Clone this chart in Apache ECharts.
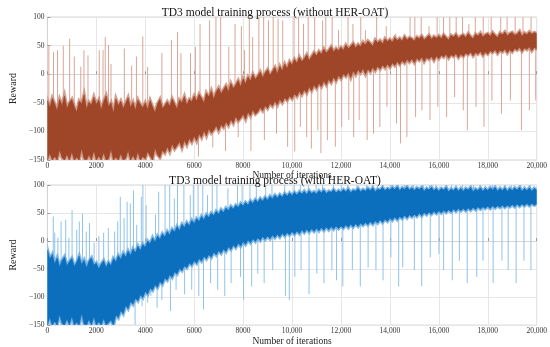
<!DOCTYPE html>
<html>
<head>
<meta charset="utf-8">
<script src="https://cdn.jsdelivr.net/npm/echarts@6/dist/echarts.min.js"></script>
<style>
html,body{margin:0;padding:0;background:#fff;}
#chart{width:550px;height:347px;}
</style>
</head>
<body>
<div id="chart"></div>
<script>
// ---------------- data ----------------
const iterStep = 100; // envelope samples every 100 iterations (0..20000)
const titles = ['TD3 model training process (without HER-OAT)', 'TD3 model training process (with HER-OAT)'];
const xName = 'Number of iterations';
const yName = 'Reward';
const xMin = 0, xMax = 20000, xInterval = 2000;
const yMin = -150, yMax = 100, yInterval = 50;

// without HER-OAT: upper / lower edge of the dense reward band
const topUpper = [
 -46,-58,-42,-52,-64,-44,-55,-38,-60,-50,
 -44,-57,-66,-47,-52,-36,-61,-49,-54,-40,
 -53,-45,-62,-48,-38,-57,-50,-68,-43,-55,
 -47,-60,-51,-41,-58,-49,-63,-45,-53,-59,
 -50,-62,-46,-57,-67,-52,-44,-60,-55,-48,
 -56,-43,-52,-61,-45,-50,-39,-54,-44,-48,
 -38,-47,-35,-42,-50,-33,-40,-29,-44,-31,
 -24,-34,-27,-20,-31,-16,-25,-19,-11,-22,
 -8,-17,-5,-12,0,-9,-3,4,-6,2,
 8,-2,5,12,1,14,6,18,10,22,
 16,26,19,30,22,27,34,24,31,38,
 32,40,35,44,37,42,48,39,45,41,
 47,42,51,45,49,54,46,52,48,56,
 51,58,54,49,60,55,59,53,62,57,
 61,56,64,59,63,58,66,60,64,62,
 58,65,62,67,60,64,68,61,66,63,
 67,62,69,64,60,68,65,70,63,67,
 69,64,71,66,62,70,67,72,65,69,
 71,66,73,68,64,72,69,74,67,71,
 73,68,70,75,66,72,69,74,70,73,71
];
const topLower = [
 -150,-138,-150,-144,-150,-132,-146,-150,-140,-150,
 -136,-150,-145,-150,-130,-148,-150,-141,-150,-134,
 -150,-143,-150,-137,-150,-148,-131,-150,-145,-150,
 -139,-150,-147,-133,-150,-142,-150,-136,-150,-144,
 -148,-135,-143,-150,-129,-141,-146,-133,-138,-127,
 -136,-122,-131,-125,-118,-129,-116,-124,-112,-119,
 -108,-117,-104,-111,-99,-108,-95,-103,-98,-90,
 -99,-88,-93,-83,-90,-79,-86,-74,-82,-77,
 -70,-79,-66,-73,-62,-70,-66,-58,-64,-55,
 -60,-51,-56,-47,-54,-44,-50,-41,-46,-38,
 -43,-34,-39,-30,-36,-27,-33,-22,-29,-19,
 -25,-16,-22,-12,-19,-9,-15,-5,-12,-2,
 -8,1,-4,4,-6,6,-1,8,2,10,
 0,9,4,12,6,14,9,16,11,18,
 12,20,15,22,17,24,19,26,21,27,
 20,28,24,30,22,29,26,31,24,32,
 27,33,30,35,28,34,31,36,29,35,
 31,37,34,39,32,38,35,40,33,39,
 35,41,38,43,36,42,39,44,37,43,
 39,45,42,47,40,46,43,48,41,47,44
];
// without HER-OAT: isolated outliers [iteration, reward]
const topSpikes = [
 [60,50],[250,39],[415,42],[650,50],[910,62],[1100,31],[1365,13],[1495,42],[1660,33],[2120,42],
 [2275,42],[2365,65],[2497,51],[2600,18],[3145,45],[3445,15],[3640,31],[3900,66],[4097,13],[4680,37],
 [5070,60],[5320,74],[5460,37],[5850,37],[6050,48],[6240,88],[6630,94],[6890,100],[7085,100],[7415,48],
 [7670,88],[7930,84],[8060,42],[8255,100],[8390,65],[8645,100],[8840,100],[9035,94],[9230,100],[9430,97],
 [9620,94],[10080,100],[10270,100],[10470,88],[10660,100],[10925,100],[11250,94],[11380,100],[11640,100],[11900,77],
 [12290,100],[12490,88],[12810,100],[13000,77],[13460,100],[13850,84],[14240,71],[14825,100],[15020,100],[15280,100],
 [15600,84],[15930,100],[16190,100],[16450,100],[16710,100],[16970,100],[17230,88],[17490,100],[17815,100],[18140,100],
 [18530,100],[18790,100],[19120,100],[19440,100],[19770,100],
 [6175,-144],[6760,-128],[7280,-134],[7800,-110],[8320,-134],[8870,-115],[9365,-104],[9820,-127],[10110,-135],[10340,-92],
 [10600,-110],[10790,-130],[11055,-98],[11180,-138],[11445,-115],[11770,-127],[12030,-92],[12320,-80],[12520,-110],[12745,-80],
 [13070,-115],[13330,-104],[13590,-92],[13880,-57],[14270,-86],[14435,-121],[14695,-110],[15050,-75],[15310,-63],[15640,-80],
 [15960,-57],[16320,-75],[16645,-40],[17000,-63],[17165,-98],[17520,-57],[17845,-92],[18170,-46],[18560,-69],[18925,-46],
 [19375,-98],[19700,-63],[19960,-46]
];

// with HER-OAT: upper / lower edge of the dense reward band
const botUpper = [
 -16,-32,-24,-41,-30,-46,-35,-28,-44,-37,
 -31,-45,-38,-27,-42,-34,-48,-36,-30,-43,
 -39,-50,-41,-35,-47,-38,-44,-31,-37,-26,
 -33,-22,-29,-18,-26,-14,-21,-9,-17,-6,
 -11,0,-5,6,-2,9,3,13,7,17,
 11,21,16,26,19,30,24,33,27,37,
 31,40,35,44,38,47,42,50,45,53,
 48,56,51,59,54,62,57,64,60,67,
 62,69,64,72,67,74,69,76,71,78,
 73,80,75,82,77,83,78,85,80,86,
 81,87,82,88,84,89,83,90,85,88,
 84,90,86,91,85,89,87,92,86,90,
 87,92,88,93,86,91,89,94,88,92,
 89,94,90,95,88,93,91,96,90,94,
 91,96,92,97,90,95,92,97,91,95,
 90,95,92,96,89,94,91,96,90,94,
 89,94,91,96,88,93,90,95,89,94,
 89,94,91,96,88,93,90,95,89,94,
 90,95,91,96,89,94,90,95,89,94,
 90,95,91,96,89,94,90,95,89,94,91
];
const botLower = [
 -150,-136,-150,-143,-150,-131,-147,-150,-139,-150,
 -134,-150,-145,-150,-129,-148,-150,-140,-150,-135,
 -150,-144,-150,-138,-150,-146,-141,-150,-132,-137,
 -124,-130,-115,-121,-108,-113,-102,-107,-96,-101,
 -90,-95,-84,-88,-78,-83,-72,-77,-66,-70,
 -60,-65,-55,-59,-49,-53,-44,-48,-39,-43,
 -35,-40,-31,-36,-27,-32,-24,-29,-20,-25,
 -17,-22,-14,-19,-10,-15,-7,-12,-4,-9,
 -1,-6,2,-3,4,-1,6,1,8,3,
 9,4,11,6,12,7,14,9,15,11,
 17,12,18,13,20,15,21,16,22,17,
 23,18,24,19,25,20,26,21,27,22,
 27,23,29,24,30,25,31,26,32,28,
 33,29,35,30,36,32,38,33,39,35,
 41,37,43,38,44,40,46,41,47,43,
 48,44,50,45,51,47,52,48,53,49,
 54,50,55,51,56,52,57,53,58,54,
 58,54,59,55,60,56,61,57,61,58,
 62,58,63,59,63,60,64,60,64,61,
 65,61,66,62,66,63,67,63,67,64,66
];
// with HER-OAT: isolated outliers [iteration, reward]
const botSpikes = [
 [45,-14],[240,44],[300,15],[430,6],[560,35],[750,38],[880,6],[1010,55],[1200,20],[1305,35],
 [1435,49],[1590,17],[1720,32],[1910,-3],[2105,9],[2300,15],[2490,23],[2750,17],[2875,35],[2980,79],
 [3135,41],[3260,70],[3390,67],[3520,90],[3650,29],[3840,79],[3905,100],[4035,64],[4420,47],[4550,88],
 [4810,100],[5000,100],[5190,76],[5320,100],[5580,100],[5840,82],[5965,100],[6160,100],[6350,100],[6545,82],
 [6740,100],[6930,100],[7380,94],[7770,100],[7960,100],[8280,100],[8540,100],[8925,100],[9180,100],[9700,100],
 [10085,100],[10340,100],[10665,100],[10985,100],[11245,100],[11690,100],[12015,100],[12270,100],[12655,100],[13040,100],
 [13300,100],[13690,100],[14010,100],[14330,100],[14590,100],[14970,100],[15360,100],[15620,100],[15875,100],[16520,100],
 [16970,100],[17420,100],[17675,100],[18190,100],[18705,100],[18965,100],[19350,100],[19735,100],
 [140,-150],[1230,-150],[1975,-145],[2555,-122],[2905,-133],[3290,-122],[3585,-149],[3870,-116],[4100,-110],[4230,-98],
 [4485,-119],[4680,-105],[5030,-125],[5260,-87],[5610,-95],[5900,-87],[6190,-98],[6380,-122],[6670,-75],[6960,-87],
 [7250,-98],[7510,-75],[7895,-64],[8020,-105],[8350,-81],[8600,-58],[8860,-75],[9210,-52],[9730,-98],[9890,-105],
 [10115,-64],[10370,-52],[10695,-95],[11015,-58],[11305,-75],[11630,-52],[11820,-70],[12075,-81],[12465,-52],[12790,-81],
 [13110,-47],[13430,-52],[13720,-70],[14040,-29],[14360,-81],[14525,-47],[15000,-52],[15300,-81],[15650,-29],[16005,-23],
 [16195,-52],[16550,-70],[16840,-35],[17160,-75],[17550,-64],[17805,-35],[18220,-75],[18580,-35],[18835,-52],[19160,-75],
 [19480,-35],[19765,-52]
];

// ---------------- build ----------------
const FONT = '"Liberation Serif","Times New Roman",serif';
const GRID_LINE = '#e6e6e6';
const BOX = '#d4d4d4';

function bandSeries(gi, upper, lower, fill, fringe){
  return {
    type:'custom', xAxisIndex:gi, yAxisIndex:gi, z:3, silent:true,
    data:[[xMin, yMin]], encode:{x:0, y:1},
    renderItem:function(params, api){
      const pts = [];
      for (let i = 0; i < upper.length; i++) pts.push(api.coord([i*iterStep, upper[i]]));
      for (let i = lower.length-1; i >= 0; i--) pts.push(api.coord([i*iterStep, lower[i]]));
      const cs = params.coordSys;
      return {type:'group', clipPath:{type:'rect', shape:{x:cs.x, y:cs.y, width:cs.width, height:cs.height}}, children:[
        {type:'polygon', shape:{points:pts}, style:{fill:'none', stroke:fringe, lineWidth:3.5, lineJoin:'miter', opacity:0.8}},
        {type:'polygon', shape:{points:pts}, style:{fill:fill, stroke:fill, lineWidth:0.6}}
      ]};
    }
  };
}
function spikeSeries(gi, spikes, upper, lower, color){
  return {
    type:'custom', xAxisIndex:gi, yAxisIndex:gi, z:2, silent:true,
    data:spikes, encode:{x:0, y:1},
    renderItem:function(params, api){
      const x = api.value(0), peak = api.value(1);
      const idx = Math.min(upper.length-1, Math.round(x/iterStep));
      const base = (upper[idx] + lower[idx]) / 2;
      const p0 = api.coord([x, base]), p1 = api.coord([x, peak]);
      const cs = params.coordSys;
      return {type:'line', shape:{x1:p0[0], y1:p0[1], x2:p1[0], y2:p1[1]},
        clipPath:{type:'rect', shape:{x:cs.x, y:cs.y, width:cs.width, height:cs.height}},
        style:{stroke:color, lineWidth:1}};
    }
  };
}
function xAxisCfg(gi){
  return {
    gridIndex: gi, type:'value', min:xMin, max:xMax, interval:xInterval,
    name: xName, nameLocation:'middle', nameGap: gi===0 ? 9 : 10,
    nameTextStyle:{fontFamily:FONT, fontSize:9.5, color:'#222'},
    axisLine:{show:true, lineStyle:{color:BOX, width:1}},
    axisTick:{show:true, inside:true, length:3, lineStyle:{color:'#999'}},
    axisLabel:{fontFamily:FONT, fontSize:7.5, color:'#333', margin:2,
      formatter:v=> v>=10000 ? (Math.floor(v/1000)+','+String(v%1000).padStart(3,'0')) : String(v)},
    splitLine:{show:true, lineStyle:{color:GRID_LINE, width:1}}
  };
}
function yAxisCfg(gi){
  return {
    gridIndex: gi, type:'value', min:yMin, max:yMax, interval:yInterval,
    name: yName, nameLocation:'middle', nameGap:15, nameRotate:90,
    nameTextStyle:{fontFamily:FONT, fontSize:10, color:'#222'},
    axisLine:{show:true, lineStyle:{color:BOX, width:1}},
    axisTick:{show:true, inside:true, length:3, lineStyle:{color:'#999'}},
    axisLabel:{fontFamily:FONT, fontSize:7.5, color:'#333', margin:3,
      formatter:v=> v<0 ? '\u2212'+Math.abs(v) : String(v)},
    splitLine:{show:true, lineStyle:{color:GRID_LINE, width:1}}
  };
}

const chart = echarts.init(document.getElementById('chart'), null, {renderer:'canvas'});
chart.setOption({
  animation:false,
  backgroundColor:'#fff',
  title:[
    {text:titles[0], left:'center', top:2, textStyle:{fontFamily:FONT, fontSize:11.5, fontWeight:'normal', color:'#111'}},
    {text:titles[1], left:'center', top:170, textStyle:{fontFamily:FONT, fontSize:11.5, fontWeight:'normal', color:'#111'}}
  ],
  grid:[
    {left:26, right:7, top:17, height:143, show:true, borderColor:BOX, borderWidth:1},
    {left:26, right:7, top:185, height:143, show:true, borderColor:BOX, borderWidth:1}
  ],
  xAxis:[xAxisCfg(0), xAxisCfg(1)],
  yAxis:[yAxisCfg(0), yAxisCfg(1)],
  series:[
    spikeSeries(0, topSpikes, topUpper, topLower, '#d9a596'),
    bandSeries(0, topUpper, topLower, '#9f4629', '#c98a74'),
    spikeSeries(1, botSpikes, botUpper, botLower, '#8fc3ea'),
    bandSeries(1, botUpper, botLower, '#0b6fbe', '#66a9de')
  ]
});
</script>
</body>
</html>
